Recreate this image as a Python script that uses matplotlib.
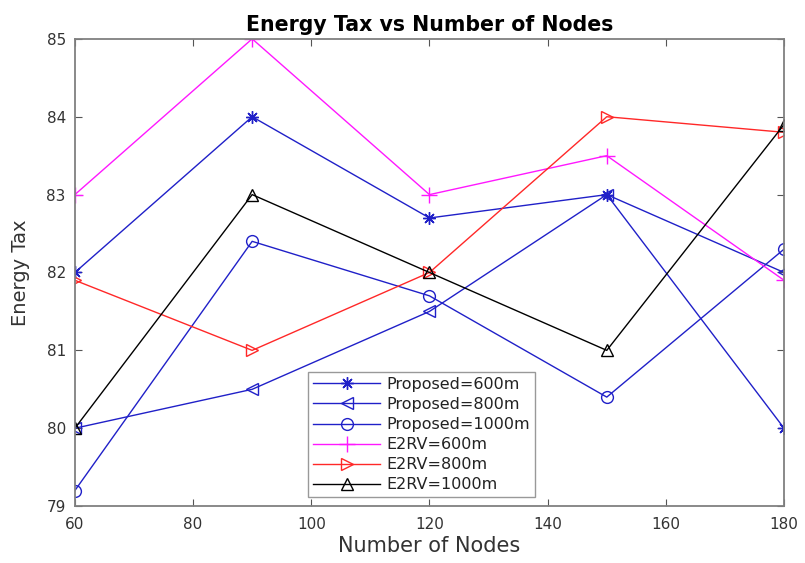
import matplotlib
matplotlib.use("Agg")
import matplotlib.pyplot as plt

plt.rcParams['font.family'] = ['DejaVu Sans']

# number of nodes on the x axis
nodes = [60, 90, 120, 150, 180]

# energy tax per scheme / range
proposed_600 = [82.0, 84.0, 82.7, 83.0, 80.0]
proposed_800 = [80.0, 80.5, 81.5, 83.0, 82.0]
proposed_1000 = [79.2, 82.4, 81.7, 80.4, 82.3]
e2rv_600 = [83.0, 85.0, 83.0, 83.5, 81.9]
e2rv_800 = [81.9, 81.0, 82.0, 84.0, 83.8]
e2rv_1000 = [80.0, 83.0, 82.0, 81.0, 83.9]

x_ticks = [60, 80, 100, 120, 140, 160, 180]
y_ticks = [79, 80, 81, 82, 83, 84, 85]

BLUE = "#2020c8"
ASTERISK = (8, 2, 0)   # matlab-style '*' (spokes, not a filled star)
series = [
    ("Proposed=600m",  proposed_600,  BLUE,      ASTERISK, 9),
    ("Proposed=800m",  proposed_800,  BLUE,      "<", 8.5),
    ("Proposed=1000m", proposed_1000, BLUE,      "o", 8.5),
    ("E2RV=600m",      e2rv_600,      "#ff18ff", "+", 12),
    ("E2RV=800m",      e2rv_800,      "#ff2828", ">", 8.5),
    ("E2RV=1000m",     e2rv_1000,     "black",   "^", 8.5),
]

fig = plt.figure(figsize=(8.05, 5.63), dpi=100)
ax = fig.add_axes([0.093, 0.101, 0.881, 0.830])

for label, vals, color, marker, ms in series:
    ax.plot(nodes, vals, color=color, marker=marker, markersize=ms,
            markerfacecolor='none', markeredgecolor=color, markeredgewidth=1.0,
            linewidth=1.0, label=label)

ax.set_xlim(60, 180)
ax.set_ylim(79, 85)
ax.set_xticks(x_ticks)
ax.set_yticks(y_ticks)
ax.tick_params(direction='in', length=5, labelsize=11, labelcolor='#333333',
               color='#555555', top=True, right=True)
ax.tick_params(axis='y', pad=6.5)
ax.tick_params(axis='x', pad=8)
for sp in ax.spines.values():
    sp.set_color('#808080')
    sp.set_linewidth(1.3)

ax.set_xlabel('Number of Nodes', fontsize=15, color='#333333', labelpad=3)
ax.set_ylabel('Energy Tax', fontsize=14, color='#333333', labelpad=12)
ax.set_title('Energy Tax vs Number of Nodes', fontsize=14.8, fontweight='bold', pad=6)

leg = ax.legend(loc='lower left', bbox_to_anchor=(0.329, 0.019), borderaxespad=0,
                fontsize=11.5, frameon=True, fancybox=False, handlelength=4.2,
                labelspacing=0.32, borderpad=0.3, handletextpad=0.4)
leg.get_frame().set_edgecolor('#808080')
leg.get_frame().set_linewidth(1.0)
for t in leg.get_texts():
    t.set_color('#222222')

fig.savefig('out.png', dpi=100)
